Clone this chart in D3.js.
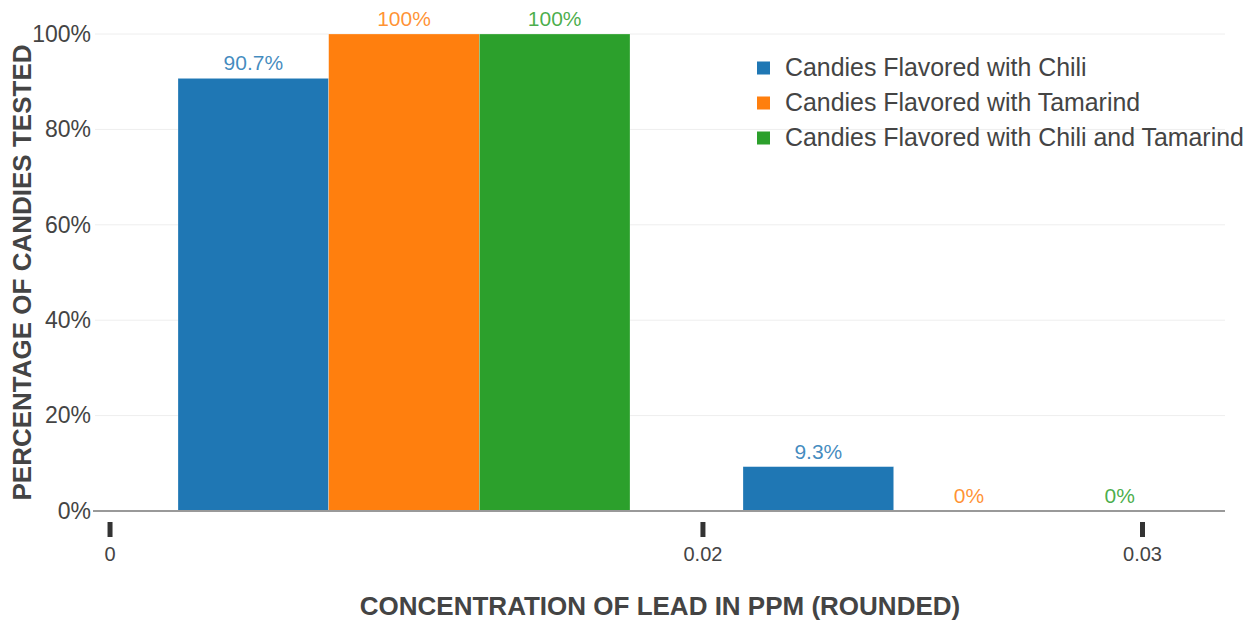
<!DOCTYPE html>
<html>
<head>
<meta charset="utf-8">
<script src="https://cdn.jsdelivr.net/npm/d3@7"></script>
<style>
  body { margin: 0; background: #fff; }
  svg { display: block; font-family: "Liberation Sans", Arial, sans-serif; }
</style>
</head>
<body>
<svg id="chart" width="1256" height="622"></svg>
<script>
// ---- data ----
const categories = ["<0.02", "0.02"];
const seriesNames = [
  "Candies Flavored with Chili",
  "Candies Flavored with Tamarind",
  "Candies Flavored with Chili and Tamarind"
];
const chiliValues = [90.7, 9.3];
const tamarindValues = [100, 0];
const chiliTamarindValues = [100, 0];
const seriesColors = ["#1f77b4", "#ff7f0e", "#2ca02c"];
const yTicks = [0, 20, 40, 60, 80, 100];
const xTickLabels = ["0", "0.02", "0.03"];
const xTickFractions = [0.0133, 0.538, 0.927];
const yTitle = "PERCENTAGE OF CANDIES TESTED";
const xTitle = "CONCENTRATION OF LEAD IN PPM (ROUNDED)";

const seriesValues = [chiliValues, tamarindValues, chiliTamarindValues];

// ---- layout ----
const W = 1256, H = 622;
const margin = { left: 95, right: 31, top: 34, bottom: 111 };
const plotW = W - margin.left - margin.right;
const plotH = H - margin.top - margin.bottom;
const bandShift = 26.5;

const svg = d3.select("#chart");
const g = svg.append("g").attr("transform", `translate(${margin.left},${margin.top})`);

const x0 = d3.scaleBand().domain(categories).range([bandShift, plotW + bandShift]).paddingInner(0.2).paddingOuter(0.1);
const x1 = d3.scaleBand().domain(d3.range(seriesNames.length)).range([0, x0.bandwidth()]).padding(0);
const y = d3.scaleLinear().domain([0, 100]).range([plotH, 0]);
const xTickScale = d3.scaleLinear().domain([0, 1]).range([0, plotW]);

// gridlines
g.append("g")
  .selectAll("line")
  .data(yTicks.filter(t => t !== 0))
  .join("line")
  .attr("x1", 0).attr("x2", plotW)
  .attr("y1", d => y(d)).attr("y2", d => y(d))
  .attr("stroke", "#eeeeee").attr("stroke-width", 1);

// y tick labels
const yAxis = d3.axisLeft(y).tickValues(yTicks).tickFormat(d => d + "%").tickSize(0).tickPadding(4);
const ya = g.append("g").call(yAxis);
ya.select(".domain").remove();
ya.selectAll("text")
  .attr("font-family", "'Liberation Sans', Arial, sans-serif")
  .attr("font-size", 23).attr("fill", "#444");

// bars
const groups = g.append("g").selectAll("g")
  .data(categories)
  .join("g")
  .attr("transform", d => `translate(${x0(d)},0)`);

groups.selectAll("rect")
  .data((c, ci) => seriesValues.map((vals, si) => ({ si, v: vals[ci] })))
  .join("rect")
  .attr("x", d => x1(d.si))
  .attr("width", x1.bandwidth())
  .attr("y", d => y(d.v))
  .attr("height", d => y(0) - y(d.v))
  .attr("fill", d => seriesColors[d.si])
  .attr("stroke", "rgba(255,255,255,0.5)")
  .attr("stroke-width", 0.5);

groups.selectAll("text")
  .data((c, ci) => seriesValues.map((vals, si) => ({ si, v: vals[ci] })))
  .join("text")
  .attr("x", d => x1(d.si) + x1.bandwidth() / 2)
  .attr("y", d => y(d.v) - 8)
  .attr("text-anchor", "middle")
  .attr("font-size", 21)
  .attr("fill", d => seriesColors[d.si])
  .attr("fill-opacity", 0.85)
  .text(d => d.v + "%");

// zero line
g.append("line")
  .attr("x1", -2).attr("x2", plotW)
  .attr("y1", y(0)).attr("y2", y(0))
  .attr("stroke", "#999").attr("stroke-width", 2);

// x ticks (custom marks)
const xt = g.append("g").selectAll("g")
  .data(xTickLabels.map((l, i) => ({ l, f: xTickFractions[i] })))
  .join("g")
  .attr("transform", d => `translate(${xTickScale(d.f)},${plotH})`);
xt.append("line")
  .attr("x1", 0).attr("x2", 0).attr("y1", 11).attr("y2", 26)
  .attr("stroke", "#333").attr("stroke-width", 5);
xt.append("text")
  .attr("y", 50).attr("text-anchor", "middle")
  .attr("font-size", 20).attr("fill", "#444")
  .text(d => d.l);

// axis titles
svg.append("text")
  .attr("transform", `translate(31,${margin.top + plotH / 2}) rotate(-90)`)
  .attr("text-anchor", "middle")
  .attr("font-size", 26).attr("font-weight", "bold").attr("fill", "#444")
  .text(yTitle);

svg.append("text")
  .attr("x", 660).attr("y", 615)
  .attr("text-anchor", "middle")
  .attr("font-size", 26).attr("font-weight", "bold").attr("fill", "#444")
  .text(xTitle);

// legend
const leg = svg.append("g").attr("transform", "translate(757,68)");
const li = leg.selectAll("g").data(seriesNames).join("g")
  .attr("transform", (d, i) => `translate(0,${i * 35})`);
li.append("rect").attr("x", 0).attr("y", -6.5).attr("width", 13).attr("height", 13)
  .attr("fill", (d, i) => seriesColors[i]);
li.append("text").attr("x", 28).attr("y", 8)
  .attr("font-size", 24.9).attr("fill", "#444")
  .text(d => d);
</script>
</body>
</html>
